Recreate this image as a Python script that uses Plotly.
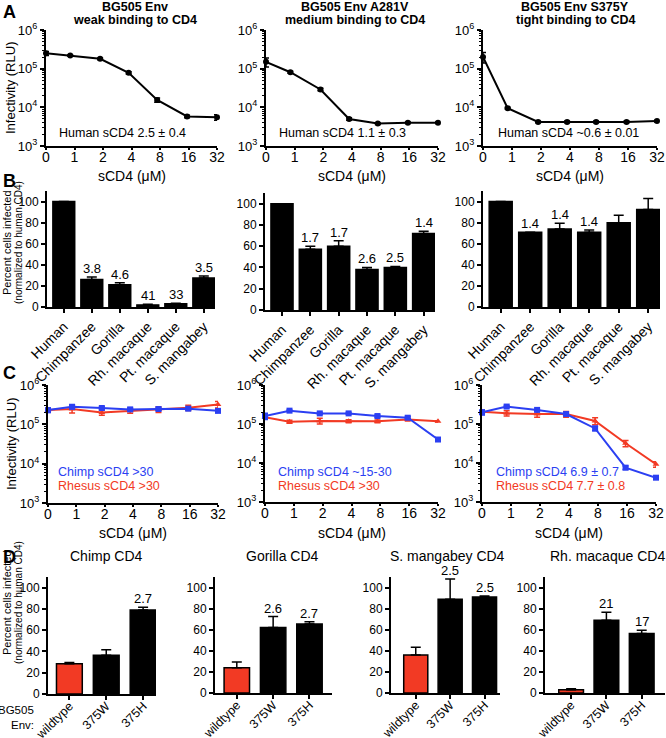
import plotly.graph_objects as go

W, H = 666, 738
FONT = "Arial, 'Liberation Sans', Helvetica, sans-serif"
BLUE = "#2b3ff2"
RED = "#f23a24"

# ---------------- data ----------------
conc_labels = ["0", "1", "2", "4", "8", "16", "32"]
conc_pos = [0, 0.85, 1.9, 2.9, 3.9, 4.95, 6.0]

a_weak = [2.5e5, 2.2e5, 1.8e5, 7.8e4, 1.55e4, 5.8e3, 5.5e3]
a_weak_err = [3e4, 1e4, 1e4, 5e3, 2e3, 4e2, 9e2]
a_med = [1.5e5, 8.1e4, 2.9e4, 5.0e3, 3.8e3, 4.0e3, 4.0e3]
a_med_err = [4e4, 5e3, 2e3, 4e2, 2e2, 2e2, 2e2]
a_tight = [2.0e5, 9.5e3, 4.2e3, 4.2e3, 4.2e3, 4.2e3, 4.4e3]
a_tight_err = [6e4, 5e2, 2e2, 2e2, 2e2, 2e2, 2e2]

a_notes = ["Human sCD4 2.5 \u00b1 0.4", "Human sCD4 1.1 \u00b1 0.3", "Human sCD4 ~0.6 \u00b1 0.01"]
a_titles = [("BG505 Env", "weak binding to CD4"),
            ("BG505 Env A281V", "medium binding to CD4"),
            ("BG505 Env S375Y", "tight binding to CD4")]

species = ["Human", "Chimpanzee", "Gorilla", "Rh. macaque", "Pt. macaque", "S. mangabey"]
b_weak = [100, 26, 21, 2, 3, 27.5]
b_weak_err = [0, 2.5, 2, 0.5, 0.5, 2]
b_weak_lbl = ["", "3.8", "4.6", "41", "33", "3.5"]
b_med = [100, 57, 60, 38, 40, 72]
b_med_err = [0, 3, 5, 2, 1, 2]
b_med_lbl = ["", "1.7", "1.7", "2.6", "2.5", "1.4"]
b_tight = [100, 71, 74, 71, 80, 92.5]
b_tight_err = [0, 0, 5.5, 2, 7, 10.5]
b_tight_lbl = ["", "1.4", "1.4", "1.4", "", ""]

c_chimp_weak = [2.3e5, 2.8e5, 2.6e5, 2.4e5, 2.45e5, 2.5e5, 2.2e5]
c_chimp_weak_err = [3e4, 3e4, 2e4, 2e4, 2e4, 2e4, 2e4]
c_rh_weak = [2.3e5, 2.45e5, 2.0e5, 2.2e5, 2.4e5, 2.65e5, 3.2e5]
c_rh_weak_err = [2e4, 5e4, 3e4, 3e4, 4e4, 4e4, 6e4]
c_chimp_med = [1.6e5, 2.2e5, 1.87e5, 1.87e5, 1.6e5, 1.45e5, 4.0e4]
c_chimp_med_err = [3e4, 1e4, 1e4, 1e4, 1e4, 1e4, 3e3]
c_rh_med = [1.5e5, 1.14e5, 1.2e5, 1.18e5, 1.17e5, 1.3e5, 1.17e5]
c_rh_med_err = [1e4, 1e4, 2e4, 1e4, 1e4, 1e4, 5e3]
c_chimp_tight = [2.0e5, 2.8e5, 2.3e5, 1.8e5, 7.7e4, 7.6e3, 4.2e3]
c_chimp_tight_err = [3e4, 2e4, 1e4, 1e4, 1e4, 8e2, 3e2]
c_rh_tight = [2.06e5, 1.9e5, 1.8e5, 1.8e5, 1.2e5, 3.2e4, 9.3e3]
c_rh_tight_err = [2e4, 3e4, 3e4, 3e4, 2.5e4, 6e3, 1.5e3]
c_notes = [("Chimp sCD4 >30", "Rhesus sCD4 >30"),
           ("Chimp sCD4 ~15-30", "Rhesus sCD4 >30"),
           ("Chimp sCD4 6.9 \u00b1 0.7", "Rhesus sCD4 7.7 \u00b1 0.8")]

env_labels = ["wildtype", "375W", "375H"]
d_titles = ["Chimp CD4", "Gorilla CD4", "S. mangabey CD4", "Rh. macaque CD4"]
d_chimp = [28.5, 36.5, 79]
d_chimp_err = [1, 5, 2.5]
d_chimp_lbl = ["", "", "2.7"]
d_gorilla = [24, 62, 65.5]
d_gorilla_err = [5.5, 10.5, 2]
d_gorilla_lbl = ["", "2.6", "2.7"]
d_smang = [36, 89, 91]
d_smang_err = [7.5, 19, 1]
d_smang_lbl = ["", "2.5", "2.5"]
d_rh = [3, 69, 56.5]
d_rh_err = [1, 7.5, 3]
d_rh_lbl = ["", "21", "17"]

# ---------------- helpers ----------------
fig = go.Figure()
layout = dict(width=W, height=H, margin=dict(l=0, r=0, t=0, b=0, autoexpand=False),
              paper_bgcolor="white", plot_bgcolor="white", showlegend=False)
annotations = []


def dx(a, b):
    return [a / W, b / W]


def dy(top, bot):
    return [1 - bot / H, 1 - top / H]


def ann(text, x, y, size=13, color="black", xanchor="center", yanchor="middle", angle=0):
    annotations.append(dict(text=text, x=x / W, y=1 - y / H, xref="paper", yref="paper",
                            showarrow=False, textangle=angle, xanchor=xanchor, yanchor=yanchor,
                            borderpad=0,
                            font=dict(family=FONT, size=size, color=color)))


def axname(i):
    return ("xaxis" if i == 1 else f"xaxis{i}", "yaxis" if i == 1 else f"yaxis{i}",
            "x" if i == 1 else f"x{i}", "y" if i == 1 else f"y{i}")


base_axis = dict(showline=True, linewidth=2, linecolor="black", ticks="outside", ticklen=4,
                 tickwidth=1.5, tickcolor="black", showgrid=False, zeroline=False,
                 tickfont=dict(family=FONT, size=12, color="black"))

minor_vals = []
for dec in [1e3, 1e4, 1e5]:
    for m in range(2, 10):
        minor_vals.append(dec * m)


def log_panel(i, box, series):
    xa, ya, xr, yr = axname(i)
    x0, x1, t, b = box
    layout[xa] = dict(base_axis, domain=dx(x0, x1), anchor=yr, range=[0, 6],
                      tickvals=list(range(7)), ticktext=conc_labels, ticklen=2,
                      ticklabelstandoff=-5,
                      tickfont=dict(family=FONT, size=14, color="black"))
    layout[ya] = dict(base_axis, domain=dy(t, b), anchor=xr, type="log", range=[3, 6],
                      tickvals=[1e3, 1e4, 1e5, 1e6],
                      ticktext=["10<sup>3</sup>", "10<sup>4</sup>", "10<sup>5</sup>", "10<sup>6</sup>"],
                      tickfont=dict(family=FONT, size=13, color="black"),
                      minor=dict(tickvals=minor_vals, ticks="outside", ticklen=2,
                                 tickcolor="black", tickwidth=1, showgrid=False))
    for vals, err, color, symbol, size in series:
        fig.add_trace(go.Scatter(x=conc_pos, y=vals, xaxis=xr, yaxis=yr, mode="lines+markers",
                                 line=dict(color=color, width=2),
                                 marker=dict(color=color, symbol=symbol, size=size),
                                 error_y=dict(type="data", array=err, color=color,
                                              thickness=1.5, width=3),
                                 cliponaxis=False, hoverinfo="skip"))


def bar_panel(i, box, cats, vals, err, lbls, colors, xrange_, width, tsize=14, standoff=0):
    xa, ya, xr, yr = axname(i)
    x0, x1, t, b = box
    n = len(cats)
    layout[xa] = dict(base_axis, domain=dx(x0, x1), anchor=yr, range=xrange_,
                      tickvals=list(range(n)), ticktext=cats, tickangle=-45,
                      ticklabelstandoff=standoff,
                      tickfont=dict(family=FONT, size=tsize, color="black"))
    layout[ya] = dict(base_axis, domain=dy(t, b), anchor=xr, range=[0, 110],
                      tickvals=[0, 20, 40, 60, 80, 100],
                      tickfont=dict(family=FONT, size=12, color="black"))
    fig.add_trace(go.Bar(x=list(range(n)), y=vals, xaxis=xr, yaxis=yr, width=width,
                         marker=dict(color=colors, line=dict(color="black", width=1.5)),
                         error_y=dict(type="data", symmetric=False, array=err,
                                      arrayminus=[0] * n, color="black", thickness=1.5, width=5),
                         hoverinfo="skip"))
    for k in range(n):
        if lbls[k]:
            annotations.append(dict(text=lbls[k], x=k, y=vals[k] + err[k], xref=xr, yref=yr,
                                    showarrow=False, yanchor="bottom", yshift=0, borderpad=0,
                                    font=dict(family=FONT, size=13, color="black")))


# ---------------- panel A ----------------
A_boxes = [(46, 217, 30, 146), (266, 438, 30, 146), (483, 657, 30, 146)]
A_data = [(a_weak, a_weak_err), (a_med, a_med_err), (a_tight, a_tight_err)]
A_title_cx = [135, 355, 575]
A_note_x = [58, 278, 497]
for j in range(3):
    log_panel(j + 1, A_boxes[j], [(A_data[j][0], A_data[j][1], "black", "circle", 6)])
    ann("<b>" + a_titles[j][0] + "</b>", A_title_cx[j], 6.5, size=12.5)
    ann("<b>" + a_titles[j][1] + "</b>", A_title_cx[j], 20, size=12.5)
    ann(a_notes[j], A_note_x[j], 133, size=12.5, xanchor="left")
    ann("sCD4 (\u03bcM)", (A_boxes[j][0] + A_boxes[j][1]) / 2, 176, size=14)
ann("Infectivity (RLU)", 11, 88, size=13, angle=-90)
ann("<b>A</b>", 2, 12, size=18, xanchor="left")

# ---------------- panel B ----------------
B_boxes = [(47, 215, 191, 307), (265, 435, 193, 310), (483, 660, 191, 307)]
B_data = [(b_weak, b_weak_err, b_weak_lbl), (b_med, b_med_err, b_med_lbl),
          (b_tight, b_tight_err, b_tight_lbl)]
for j in range(3):
    v, e, l = B_data[j]
    bar_panel(4 + j, B_boxes[j], species, v, e, l, ["black"] * 6, [-0.6, 5.4], 0.78)
ann("Percent cells infected", 7, 243, size=11, angle=-90)
ann("(normalized to human CD4)", 18, 243, size=10, angle=-90)
ann("<b>B</b>", 2, 181, size=18, xanchor="left")

# ---------------- panel C ----------------
C_boxes = [(48, 218, 385, 503), (265, 438, 385, 502), (482, 656, 385, 502)]
C_data = [
    [(c_chimp_weak, c_chimp_weak_err, BLUE, "square", 6), (c_rh_weak, c_rh_weak_err, RED, "triangle-up", 6)],
    [(c_chimp_med, c_chimp_med_err, BLUE, "square", 6), (c_rh_med, c_rh_med_err, RED, "triangle-up", 6)],
    [(c_chimp_tight, c_chimp_tight_err, BLUE, "square", 6), (c_rh_tight, c_rh_tight_err, RED, "triangle-up", 6)],
]
C_note_x = [57, 277, 495]
for j in range(3):
    # draw rhesus first so chimp lies on top like the original
    log_panel(7 + j, C_boxes[j], [C_data[j][1], C_data[j][0]])
    ann(c_notes[j][0], C_note_x[j], 472, size=12.5, color=BLUE, xanchor="left")
    ann(c_notes[j][1], C_note_x[j], 486, size=12.5, color=RED, xanchor="left")
    ann("sCD4 (\u03bcM)", (C_boxes[j][0] + C_boxes[j][1]) / 2, 533, size=14)
ann("Infectivity (RLU)", 11, 444, size=13, angle=-90)
ann("<b>C</b>", 2, 373, size=18, xanchor="left")

# ---------------- panel D ----------------
D_boxes = [(48, 156, 577, 694), (215, 332, 577, 693), (391, 500, 577, 693), (545, 665, 577, 693)]
D_ranges = [[-0.58, 2.35], [-0.6, 2.62], [-0.72, 2.45], [-0.74, 2.66]]
D_data = [(d_chimp, d_chimp_err, d_chimp_lbl), (d_gorilla, d_gorilla_err, d_gorilla_lbl),
          (d_smang, d_smang_err, d_smang_lbl), (d_rh, d_rh_err, d_rh_lbl)]
D_title_cx = [107, 282, 447, 607]
for j in range(4):
    v, e, l = D_data[j]
    bar_panel(10 + j, D_boxes[j], env_labels, v, e, l, [RED, "black", "black"],
              D_ranges[j], 0.7, tsize=12.5, standoff=-6)
    ann(d_titles[j], D_title_cx[j], 556, size=14)
ann("Percent cells infected", 7, 603, size=11, angle=-90)
ann("(normalized to human CD4)", 18, 603, size=10, angle=-90)
ann("<b>D</b>", 2, 557, size=18, xanchor="left")
ann("BG505", 35, 710, size=11.5, xanchor="right")
ann("Env:", 35, 725, size=11.5, xanchor="right")

layout["annotations"] = annotations
fig.update_layout(**layout)
fig.write_html("out.html", config={"displayModeBar": False},
               post_script="document.body.style.margin='0px';document.body.style.overflow='hidden';")
